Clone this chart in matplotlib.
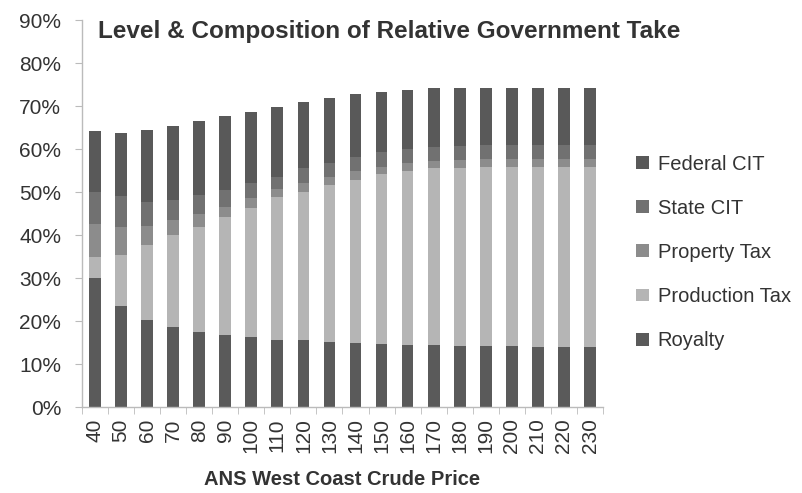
import matplotlib
matplotlib.use("Agg")
import matplotlib.pyplot as plt
import numpy as np
from matplotlib.patches import Patch

plt.rcParams['font.family'] = ['Liberation Sans', 'DejaVu Sans']

prices = [40, 50, 60, 70, 80, 90, 100, 110, 120, 130, 140, 150, 160, 170, 180, 190, 200, 210, 220, 230]
royalty = [29.9, 23.5, 20.2, 18.7, 17.4, 16.7, 16.2, 15.7, 15.5, 15.1, 14.9, 14.7, 14.5, 14.4, 14.3, 14.2, 14.1, 14.0, 14.0, 13.9]
production_tax = [5.1, 11.8, 17.5, 21.3, 24.4, 27.4, 30.0, 33.1, 34.6, 36.5, 38.0, 39.4, 40.4, 41.1, 41.4, 41.7, 41.8, 41.9, 41.9, 42.0]
property_tax = [7.5, 6.5, 4.5, 3.5, 3.0, 2.5, 2.3, 1.9, 2.0, 1.9, 1.9, 1.8, 1.8, 1.8, 1.8, 1.8, 1.8, 1.8, 1.8, 1.8]
state_cit = [7.5, 7.2, 5.4, 4.6, 4.5, 3.9, 3.6, 2.9, 3.4, 3.3, 3.4, 3.3, 3.2, 3.1, 3.2, 3.2, 3.3, 3.3, 3.3, 3.3]
federal_cit = [14.3, 14.7, 16.8, 17.2, 17.2, 17.1, 16.6, 16.2, 15.4, 15.0, 14.5, 14.1, 13.9, 13.7, 13.5, 13.3, 13.2, 13.2, 13.2, 13.2]

series = [
    ("Royalty", royalty, "#5a5a5a"),
    ("Production Tax", production_tax, "#b5b5b5"),
    ("Property Tax", property_tax, "#8c8c8c"),
    ("State CIT", state_cit, "#717171"),
    ("Federal CIT", federal_cit, "#595959"),
]

fig = plt.figure(figsize=(8.03, 4.93), dpi=100)
ax = fig.add_axes([0.102, 0.1744, 0.649, 0.785])

x = np.arange(len(prices))
bottom = np.zeros(len(prices))
for name, vals, col in series:
    v = np.array(vals)
    ax.bar(x, v, bottom=bottom, width=0.45, color=col, edgecolor='none', zorder=2)
    bottom += v

ax.set_xlim(-0.5, len(prices) - 0.5)
ax.set_ylim(0, 90)
ax.set_yticks(np.arange(0, 91, 10))
ax.set_yticklabels([f"{t}%" for t in range(0, 91, 10)], fontsize=15, color='#333333')
ax.set_xticks(x)
ax.set_xticklabels([str(p) for p in prices], rotation=90, fontsize=15, color='#333333')
ax.tick_params(axis='x', length=0, pad=8)
ax.set_xticks(np.arange(-0.5, len(prices), 1), minor=True)
ax.tick_params(axis='x', which='minor', length=5, color='#bbbbbb', direction='out')
ax.tick_params(axis='y', length=5, color='#bbbbbb', direction='out', pad=10)

for s in ['top', 'right']:
    ax.spines[s].set_visible(False)
for s in ['left', 'bottom']:
    ax.spines[s].set_color('#bbbbbb')
    ax.spines[s].set_linewidth(1)

ax.set_xlabel("ANS West Coast Crude Price", fontsize=14.5, fontweight='bold', color='#333333', labelpad=12)

fig.text(0.122, 0.937, "Level & Composition of Relative Government Take", fontsize=17.5,
         fontweight='bold', color='#333333', ha='left', va='center')

handles = [Patch(facecolor=col, edgecolor='none', label=name) for name, vals, col in series][::-1]
leg = fig.legend(handles=handles, loc='center left', bbox_to_anchor=(0.77, 0.488), frameon=False,
                 fontsize=14.5, handlelength=0.6, handleheight=0.6, handletextpad=0.45, labelspacing=1.25)
for t in leg.get_texts():
    t.set_color('#333333')

fig.savefig("out.png", dpi=100)
